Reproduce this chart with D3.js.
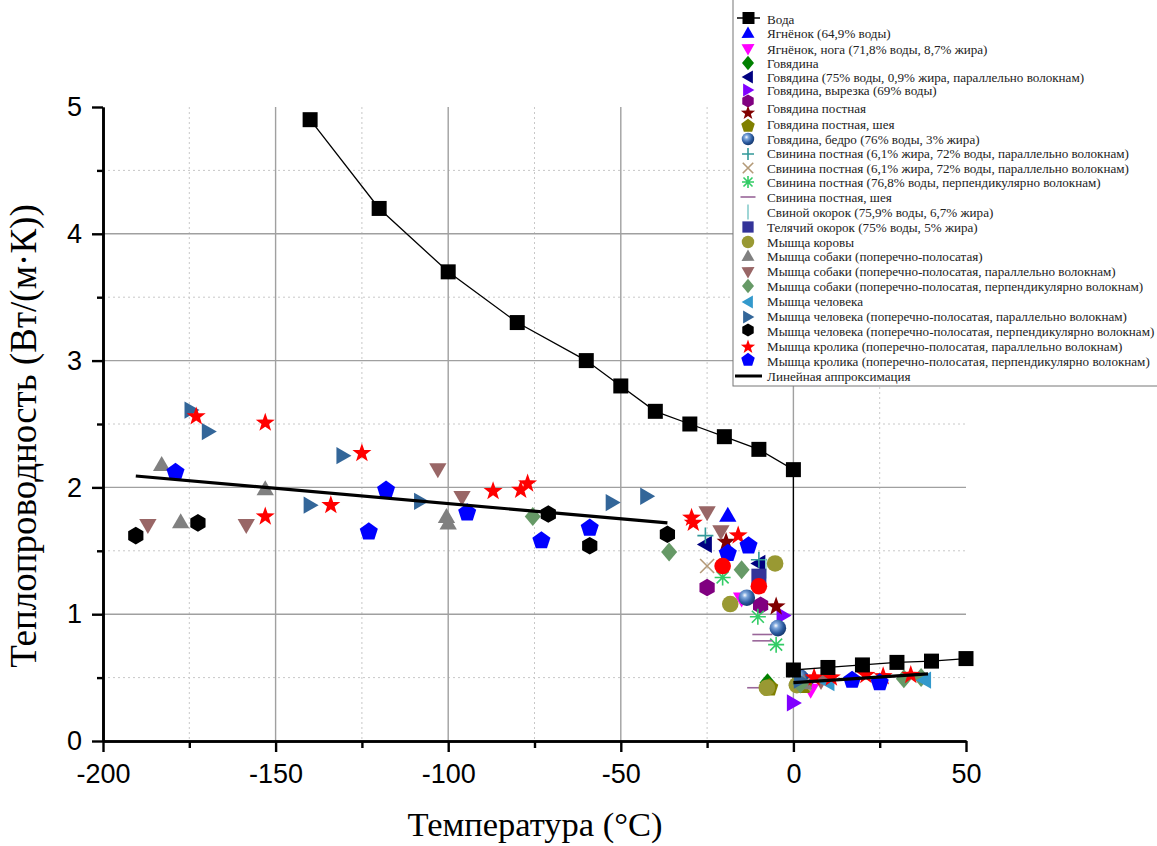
<!DOCTYPE html>
<html>
<head>
<meta charset="utf-8">
<script src="https://cdn.jsdelivr.net/npm/d3@7"></script>
<style>
  body { margin: 0; background: #fff; }
  svg { display: block; }
</style>
</head>
<body>
<svg width="1157" height="846"></svg>
<script>
/*eslint no-undef: 0*/

// ---- data: [temperature °C, conductivity W/(m·K)] ----
const voda = [[-140, 4.9], [-120, 4.2], [-100, 3.7], [-80, 3.3], [-60, 3.0], [-50, 2.8], [-40, 2.6], [-30, 2.5],
  [-20, 2.4], [-10, 2.3], [0, 2.14], [0, 0.56], [10, 0.58], [20, 0.6], [30, 0.62], [40, 0.63], [50, 0.65]]
const lamb = [[-19, 1.78], [4, 0.47]]
const lambLeg = [[-15, 1.12], [5, 0.40]]
const beef = [[-7.5, 0.46]]
const beefParallel = [[-25.5, 1.55], [-10, 1.40], [1, 0.45]]
const beefTender = [[-3, 0.99], [0, 0.30]]
const beefLean = [[-25, 1.21], [-9.5, 1.07]]
const beefLeanNeck = [[-19.5, 1.57], [-5, 1.06]]
const beefLeanOlive = [[-7, 0.42], [3, 0.44]]
const beefThigh = [[-13.5, 1.13], [-4.5, 0.89], [2, 0.50]]
const porkPlus = [[-25.5, 1.62], [-10, 1.43]]
const porkCross = [[-25, 1.38], [3, 0.45]]
const porkPerp = [[-20.5, 1.29], [-10.3, 0.98], [-5, 0.76]]
const porkNeck = [[-9, 0.84], [-9, 0.79], [-10.5, 0.42]]
const ham = [[-8, 1.36], [2, 0.47]]
const veal = [[-10, 1.30]]
const cow = [[-5.3, 1.40], [-18.3, 1.08], [-7.7, 0.42], [1, 0.44]]
const dog = [[-183, 2.18], [-177.5, 1.73], [-153, 1.99], [-100.5, 1.77], [-100, 1.72], [3, 0.46]]
const dogPar = [[-187, 1.70], [-158.5, 1.70], [-103, 2.14], [-96, 1.92], [-25, 1.80], [-21, 1.65], [8, 0.47]]
const dogPerp = [[-75.5, 1.77], [-36, 1.49], [-15, 1.35], [2, 0.45], [32, 0.49], [37, 0.50]]
const human = [[10, 0.46], [38, 0.48]]
const humanPar = [[-174.5, 2.61], [-169.5, 2.44], [-140, 1.86], [-130.5, 2.25], [-108, 1.89], [-52.5, 1.88], [-42.5, 1.93], [2, 0.48]]
const humanPerp = [[-190.5, 1.62], [-172.5, 1.72], [-71, 1.79], [-59, 1.54], [-36.5, 1.63]]
const rabbitPar = [[-173, 2.56], [-153, 2.51], [-153, 1.77], [-134, 1.86], [-125, 2.27], [-87, 1.97], [-79, 1.98], [-77, 2.03],
  [-29.5, 1.76], [-29, 1.72], [-16, 1.62], [6, 0.50], [11, 0.50], [21, 0.52], [26, 0.51], [34, 0.52]]
const rabbitPerp = [[-179, 2.12], [-118, 1.98], [-123, 1.65], [-94.5, 1.80], [-73, 1.58], [-59, 1.68], [-19, 1.48], [-13, 1.54], [17, 0.48], [25, 0.46]]
const redCircles = [[-20.5, 1.38], [-10, 1.22]]

const fitLow = [[-190.5, 2.09], [-36.5, 1.72]]
const fitHigh = [[0, 0.46], [39, 0.53]]

const legendLabels = ['Вода', 'Ягнёнок (64,9% воды)', 'Ягнёнок, нога (71,8% воды, 8,7% жира)', 'Говядина',
  'Говядина (75% воды, 0,9% жира, параллельно волокнам)', 'Говядина, вырезка (69% воды)', 'Говядина постная',
  'Говядина постная, шея', 'Говядина, бедро (76% воды, 3% жира)',
  'Свинина постная (6,1% жира, 72% воды, параллельно волокнам)',
  'Свинина постная (6,1% жира, 72% воды, параллельно волокнам)',
  'Свинина постная (76,8% воды, перпендикулярно волокнам)', 'Свинина постная, шея',
  'Свиной окорок (75,9% воды, 6,7% жира)', 'Телячий окорок (75% воды, 5% жира)', 'Мышца коровы',
  'Мышца собаки (поперечно-полосатая)', 'Мышца собаки (поперечно-полосатая, параллельно волокнам)',
  'Мышца собаки (поперечно-полосатая, перпендикулярно волокнам)', 'Мышца человека',
  'Мышца человека (поперечно-полосатая, параллельно волокнам)',
  'Мышца человека (поперечно-полосатая, перпендикулярно волокнам)',
  'Мышца кролика (поперечно-полосатая, параллельно волокнам)',
  'Мышца кролика (поперечно-полосатая, перпендикулярно волокнам)', 'Линейная аппроксимация']

const xMajor = [-200, -150, -100, -50, 0, 50]
const xMinor = [-175, -125, -75, -25, 25]
const yMajor = [0, 1, 2, 3, 4, 5]
const yMinor = [0.5, 1.5, 2.5, 3.5, 4.5]

// ---- styling (kept apart from the values) ----
const series = [
  {data: lamb, shape: 'triUp', color: '#0000ff'},
  {data: lambLeg, shape: 'triDown', color: '#ff00ff'},
  {data: beef, shape: 'diamond', color: '#008000'},
  {data: beefParallel, shape: 'triLeft', color: '#000080'},
  {data: beefTender, shape: 'triRight', color: '#8000ff'},
  {data: beefLean, shape: 'hexagon', color: '#800080'},
  {data: beefLeanNeck, shape: 'star', color: '#800000'},
  {data: beefLeanOlive, shape: 'pentagon', color: '#808000'},
  {data: beefThigh, shape: 'sphere', color: '#3366aa'},
  {data: porkPlus, shape: 'plus', color: '#339999'},
  {data: porkCross, shape: 'cross', color: '#b49a78'},
  {data: porkPerp, shape: 'asterisk', color: '#33cc66'},
  {data: porkNeck, shape: 'hline', color: '#996699'},
  {data: ham, shape: 'vline', color: '#88cccc'},
  {data: veal, shape: 'square', color: '#333399'},
  {data: cow, shape: 'circle', color: '#999933'},
  {data: dog, shape: 'triUp', color: '#808080'},
  {data: dogPar, shape: 'triDown', color: '#996666'},
  {data: dogPerp, shape: 'diamond', color: '#669966'},
  {data: human, shape: 'triLeft', color: '#3399cc'},
  {data: humanPar, shape: 'triRight', color: '#336699'},
  {data: humanPerp, shape: 'hexagon', color: '#000000'},
  {data: rabbitPar, shape: 'star', color: '#ff0000'},
  {data: rabbitPerp, shape: 'pentagon', color: '#0000ff'}
]

const svg = d3.select('svg')
const x = d3.scaleLinear().domain([-200, 50]).range([103, 966])
const y = d3.scaleLinear().domain([0, 5]).range([741, 107])

const defs = svg.append('defs')
const grad = defs.append('radialGradient').attr('id', 'sphere')
  .attr('cx', '38%').attr('cy', '35%').attr('r', '65%')
grad.append('stop').attr('offset', '0%').attr('stop-color', '#ffffff')
grad.append('stop').attr('offset', '25%').attr('stop-color', '#7fa8dd')
grad.append('stop').attr('offset', '70%').attr('stop-color', '#2b5a9e')
grad.append('stop').attr('offset', '100%').attr('stop-color', '#173a70')

function ngon (n, r, rot) {
  return d3.range(n).map(i => {
    const a = rot + i * 2 * Math.PI / n
    return [r * Math.sin(a), -r * Math.cos(a)]
  })
}
function poly (pts) { return 'M' + pts.map(p => p[0].toFixed(2) + ',' + p[1].toFixed(2)).join('L') + 'Z' }

function shapePath (shape, s) {
  switch (shape) {
    case 'square': return poly([[-7.5 * s, -7.5 * s], [7.5 * s, -7.5 * s], [7.5 * s, 7.5 * s], [-7.5 * s, 7.5 * s]])
    case 'triUp': return poly(ngon(3, 10 * s, 0).map(p => [p[0], p[1] + 1.5 * s]))
    case 'triDown': return poly(ngon(3, 10 * s, Math.PI).map(p => [p[0], p[1] - 1.5 * s]))
    case 'triLeft': return poly(ngon(3, 10 * s, -Math.PI / 2).map(p => [p[0] + 1.5 * s, p[1]]))
    case 'triRight': return poly(ngon(3, 10 * s, Math.PI / 2).map(p => [p[0] - 1.5 * s, p[1]]))
    case 'diamond': return poly([[0, -9.5 * s], [8 * s, 0], [0, 9.5 * s], [-8 * s, 0]])
    case 'hexagon': return poly(ngon(6, 8.8 * s, 0))
    case 'pentagon': return poly(ngon(5, 9.5 * s, 0))
    case 'star': return poly(d3.range(10).map(i => {
      const r = (i % 2 ? 4 : 10) * s
      const a = i * Math.PI / 5
      return [r * Math.sin(a), -r * Math.cos(a)]
    }))
    case 'plus': return `M${-8 * s},0H${8 * s}M0,${-8 * s}V${8 * s}`
    case 'cross': return `M${-7 * s},${-7 * s}L${7 * s},${7 * s}M${-7 * s},${7 * s}L${7 * s},${-7 * s}`
    case 'asterisk': return `M${-8 * s},0H${8 * s}M0,${-8 * s}V${8 * s}M${-6 * s},${-6 * s}L${6 * s},${6 * s}M${-6 * s},${6 * s}L${6 * s},${-6 * s}`
    case 'hline': return `M${-10 * s},0H${10 * s}`
    case 'vline': return `M0,${-10 * s}V${10 * s}`
  }
  return null
}

const strokeShapes = ['plus', 'cross', 'asterisk', 'hline', 'vline']

function drawMarker (g, shape, color, px, py, s) {
  if (shape === 'circle' || shape === 'sphere') {
    g.append('circle').attr('cx', px).attr('cy', py).attr('r', 8.3 * s)
      .attr('fill', shape === 'sphere' ? 'url(#sphere)' : color)
    return
  }
  const p = g.append('path').attr('d', shapePath(shape, s))
    .attr('transform', 'translate(' + px + ',' + py + ')')
  if (strokeShapes.includes(shape)) {
    p.attr('fill', 'none').attr('stroke', color).attr('stroke-width', 1.6)
  } else {
    p.attr('fill', color)
  }
}

// ---- grid ----
const grid = svg.append('g')
grid.selectAll('.vmin').data(xMinor).enter().append('line')
  .attr('x1', d => x(d)).attr('x2', d => x(d)).attr('y1', y(5)).attr('y2', y(0))
  .attr('stroke', '#c8c8c8').attr('stroke-width', 1).attr('stroke-dasharray', '2,3')
grid.selectAll('.hmin').data(yMinor).enter().append('line')
  .attr('x1', x(-200)).attr('x2', x(50)).attr('y1', d => y(d)).attr('y2', d => y(d))
  .attr('stroke', '#c8c8c8').attr('stroke-width', 1).attr('stroke-dasharray', '2,3')
grid.selectAll('.vmaj').data(xMajor.slice(1, -1)).enter().append('line')
  .attr('x1', d => x(d)).attr('x2', d => x(d)).attr('y1', y(5)).attr('y2', y(0))
  .attr('stroke', '#a0a0a0').attr('stroke-width', 1.4)
grid.selectAll('.hmaj').data(yMajor.slice(1, -1)).enter().append('line')
  .attr('x1', x(-200)).attr('x2', x(50)).attr('y1', d => y(d)).attr('y2', d => y(d))
  .attr('stroke', '#a0a0a0').attr('stroke-width', 1.4)

// ---- axes ----
function styleAxis (g) {
  g.select('.domain').attr('stroke-width', 2.6)
  g.selectAll('.tick line').attr('stroke-width', 2.4)
  g.selectAll('text').attr('font-family', '"Liberation Sans", Arial, sans-serif')
    .attr('font-size', 27).attr('fill', '#000')
}
svg.append('g').attr('transform', 'translate(0,' + y(0) + ')')
  .call(d3.axisBottom(x).tickValues(xMinor).tickSize(7).tickSizeOuter(0).tickFormat(''))
  .call(styleAxis)
svg.append('g').attr('transform', 'translate(0,' + y(0) + ')')
  .call(d3.axisBottom(x).tickValues(xMajor).tickSize(11).tickSizeOuter(0).tickPadding(12).tickFormat(d3.format('d')))
  .call(styleAxis)
  .selectAll('text').text(d => d < 0 ? '-' + Math.abs(d) : d)
svg.append('g').attr('transform', 'translate(' + x(-200) + ',0)')
  .call(d3.axisLeft(y).tickValues(yMinor).tickSize(6).tickSizeOuter(0).tickFormat(''))
  .call(styleAxis)
svg.append('g').attr('transform', 'translate(' + x(-200) + ',0)')
  .call(d3.axisLeft(y).tickValues(yMajor).tickSize(11).tickSizeOuter(0).tickPadding(10).tickFormat(d3.format('d')))
  .call(styleAxis)

// ---- marks ----
const marks = svg.append('g')
series.forEach(s => {
  s.data.forEach(d => drawMarker(marks, s.shape, s.color, x(d[0]), y(d[1]), 1))
})
redCircles.forEach(d => drawMarker(marks, 'circle', '#ff0000', x(d[0]), y(d[1]), 1))

const line = d3.line().x(d => x(d[0])).y(d => y(d[1]))
marks.append('path').attr('d', line(voda)).attr('fill', 'none').attr('stroke', '#000').attr('stroke-width', 1.3)
voda.forEach(d => drawMarker(marks, 'square', '#000', x(d[0]), y(d[1]), 1))

marks.selectAll('.fit').data([fitLow, fitHigh]).enter().append('path')
  .attr('d', line).attr('fill', 'none').attr('stroke', '#000').attr('stroke-width', 3.2)

// ---- axis titles ----
svg.append('text')
  .attr('transform', 'translate(36,436) rotate(-90)')
  .attr('text-anchor', 'middle')
  .attr('font-family', '"Liberation Serif", "Times New Roman", serif')
  .attr('font-size', 37)
  .text('Теплопроводность (Вт/(м·К))')
svg.append('text')
  .attr('x', 535).attr('y', 836)
  .attr('text-anchor', 'middle')
  .attr('font-family', '"Liberation Serif", "Times New Roman", serif')
  .attr('font-size', 34.5)
  .text('Температура (°C)')

// ---- legend ----
const legend = svg.append('g')
legend.append('rect').attr('x', 733).attr('y', -1).attr('width', 440).attr('height', 387)
  .attr('fill', '#fff').attr('stroke', '#777').attr('stroke-width', 1)

const symRows = [33, 49, 63, 77, 90, 101, 113, 126, 139, 154, 168, 182, 197, 212, 227, 242, 256, 272, 286, 302, 317, 330, 347, 360]
const labelRows = [19, 33, 49, 63, 77, 90, 108, 124, 139, 153, 168, 182, 197, 212, 227, 242, 256, 271, 286, 301, 316, 331, 346, 361, 376]

legend.append('line').attr('x1', 737).attr('x2', 760).attr('y1', 18).attr('y2', 18)
  .attr('stroke', '#000').attr('stroke-width', 1.5)
drawMarker(legend, 'square', '#000', 748.5, 18, 0.8)
series.forEach((s, i) => drawMarker(legend, s.shape, s.color, 748, symRows[i], 0.75))
legend.append('line').attr('x1', 735).attr('x2', 762).attr('y1', 376).attr('y2', 376)
  .attr('stroke', '#000').attr('stroke-width', 3)

legend.selectAll('.lab').data(legendLabels).enter().append('text')
  .attr('x', 767).attr('y', (d, i) => labelRows[i])
  .attr('dy', '0.35em')
  .attr('font-family', '"Liberation Serif", "Times New Roman", serif')
  .attr('font-size', 13.1)
  .attr('fill', '#222')
  .text(d => d)
</script>
</body>
</html>
